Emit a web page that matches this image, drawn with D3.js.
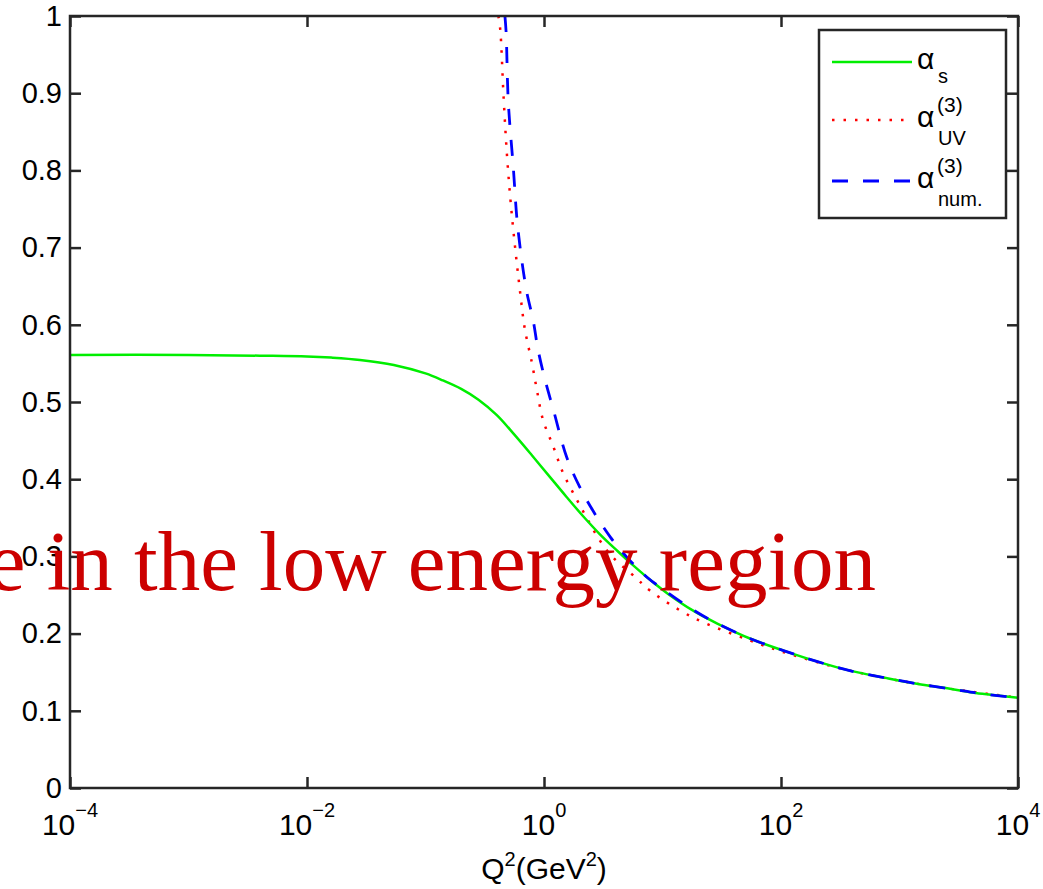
<!DOCTYPE html>
<html>
<head>
<meta charset="utf-8">
<script src="https://cdn.jsdelivr.net/npm/d3@7"></script>
<style>
  html, body { margin: 0; padding: 0; background: #fff; }
  svg { display: block; }
  .tick-label { font-family: "Liberation Sans", Arial, Helvetica, sans-serif; fill: #000; }
</style>
</head>
<body>
<svg id="chart" width="1043" height="889"></svg>
<script>
// Running coupling alpha_s(Q^2) compared with the 3-loop UV expression and the numerical solution

// alpha_s (analytic, freezes in the infrared)
const q2AlphaS = [1e-4, 1e-3, 0.004, 0.01, 0.016, 0.028, 0.054, 0.1, 0.14, 0.2, 0.28, 0.40, 0.56, 0.79,
  1.12, 1.55, 2.14, 2.95, 4.17, 5.6, 7.8, 11, 18, 29, 56, 105, 200, 380, 740, 1400, 2800, 5000, 1e4];
const alphaS = [0.561, 0.561, 0.560, 0.559, 0.5575, 0.5545, 0.548, 0.537, 0.528, 0.517, 0.503, 0.483, 0.458, 0.431,
  0.403, 0.377, 0.352, 0.329, 0.307, 0.289, 0.270, 0.252, 0.230, 0.213, 0.193, 0.178, 0.164, 0.152, 0.143, 0.135, 0.128, 0.122, 0.117];

// alpha_UV^(3)
const q2AlphaUV = [0.412, 0.427, 0.457, 0.49, 0.537, 0.63, 0.69, 0.79, 0.87, 0.98, 1.2, 1.45, 1.9, 2.35, 2.95, 3.8,
  6.0, 7.8, 18, 55, 100, 316, 1000, 3160, 1e4];
const alphaUV = [1.0, 0.983, 0.892, 0.814, 0.740, 0.641, 0.594, 0.551, 0.516, 0.477, 0.442, 0.408, 0.373, 0.347, 0.321, 0.299,
  0.272, 0.256, 0.221, 0.191, 0.177, 0.155, 0.139, 0.127, 0.117];

// alpha_num.^(3)
const q2AlphaNum = [0.468, 0.479, 0.50, 0.55, 0.60, 0.71, 0.81, 0.89, 1.02, 1.2, 1.55, 2.0, 2.57, 3.63, 5.0, 7.4,
  10, 18, 29, 56, 105, 200, 380, 740, 1400, 2800, 5000, 1e4];
const alphaNum = [1.0, 0.979, 0.888, 0.805, 0.727, 0.645, 0.606, 0.568, 0.529, 0.490, 0.429, 0.390, 0.360, 0.325, 0.299, 0.273,
  0.258, 0.231, 0.213, 0.193, 0.178, 0.164, 0.152, 0.143, 0.135, 0.128, 0.122, 0.117];

const xTicks = [1e-4, 1e-2, 1, 1e2, 1e4];
const xTickExponents = ["\u22124", "\u22122", "0", "2", "4"];
const yTicks = [0, 0.1, 0.2, 0.3, 0.4, 0.5, 0.6, 0.7, 0.8, 0.9, 1];
const yTickLabels = ["0", "0.1", "0.2", "0.3", "0.4", "0.5", "0.6", "0.7", "0.8", "0.9", "1"];

const svg = d3.select("#chart");
const plotLeft = 70, plotRight = 1018, plotTop = 16, plotBottom = 788;

const x = d3.scaleLog().domain([1e-4, 1e4]).range([plotLeft, plotRight]);
const y = d3.scaleLinear().domain([0, 1]).range([plotBottom, plotTop]);

svg.append("defs").append("clipPath").attr("id", "plot-clip")
  .append("rect").attr("x", plotLeft).attr("y", plotTop)
  .attr("width", plotRight - plotLeft).attr("height", plotBottom - plotTop);

const frameColor = "#262626";

// axes with inward ticks on all four sides
const gx = svg.append("g").attr("transform", `translate(0,${plotBottom})`)
  .call(d3.axisBottom(x).tickValues(xTicks).tickSize(-11).tickFormat(""));
const gxTop = svg.append("g").attr("transform", `translate(0,${plotTop})`)
  .call(d3.axisTop(x).tickValues(xTicks).tickSize(-11).tickFormat(""));
const gy = svg.append("g").attr("transform", `translate(${plotLeft},0)`)
  .call(d3.axisLeft(y).tickValues(yTicks).tickSize(-11).tickPadding(8).tickFormat((d, i) => yTickLabels[i]));
const gyRight = svg.append("g").attr("transform", `translate(${plotRight},0)`)
  .call(d3.axisRight(y).tickValues(yTicks).tickSize(-11).tickFormat(""));

[gx, gxTop, gy, gyRight].forEach(g => {
  g.select(".domain").remove();
  g.selectAll(".tick line").attr("stroke", frameColor).attr("stroke-width", 2.5);
});
gy.selectAll(".tick text")
  .attr("class", "tick-label")
  .style("font-size", "29px")
  .attr("fill", "#000");

// x tick labels: powers of ten
const xl = svg.append("g").selectAll("text").data(xTicks).join("text")
  .attr("class", "tick-label")
  .attr("x", d => x(d))
  .attr("y", 835)
  .attr("text-anchor", "middle")
  .style("font-size", "30px");
xl.append("tspan").text("10");
xl.append("tspan").attr("dy", -18).style("font-size", "20px").text((d, i) => xTickExponents[i]);

// x axis title
const xt = svg.append("text").attr("class", "tick-label")
  .attr("x", 544).attr("y", 879).attr("text-anchor", "middle").style("font-size", "30px");
xt.append("tspan").text("Q");
xt.append("tspan").attr("dy", -13).style("font-size", "20px").text("2");
xt.append("tspan").attr("dy", 13).text("(GeV");
xt.append("tspan").attr("dy", -13).style("font-size", "20px").text("2");
xt.append("tspan").attr("dy", 13).text(")");

// curves
const series = [
  { q2: q2AlphaUV, a: alphaUV, color: "#ff0000", dash: "2.5,9", width: 2.5 },
  { q2: q2AlphaS, a: alphaS, color: "#00ee00", dash: null, width: 2.5 },
  { q2: q2AlphaNum, a: alphaNum, color: "#0000ff", dash: "16,15", width: 2.8 }
];

const line = d3.line().curve(d3.curveCatmullRom.alpha(0.5));
const plot = svg.append("g").attr("clip-path", "url(#plot-clip)");
series.forEach(s => {
  plot.append("path")
    .attr("d", line(s.q2.map((q, i) => [x(q), y(s.a[i])])))
    .attr("fill", "none")
    .attr("stroke", s.color)
    .attr("stroke-width", s.width)
    .attr("stroke-dasharray", s.dash);
});

// frame
svg.append("rect").attr("x", plotLeft).attr("y", plotTop)
  .attr("width", plotRight - plotLeft).attr("height", plotBottom - plotTop)
  .attr("fill", "none").attr("stroke", frameColor).attr("stroke-width", 2.5);

// legend
const legend = svg.append("g");
legend.append("rect").attr("x", 819).attr("y", 30).attr("width", 187).attr("height", 188)
  .attr("fill", "#fff").attr("stroke", frameColor).attr("stroke-width", 2.5);

const legendRows = [
  { y: 62, color: "#00ee00", dash: null, sup: null, sub: "s", width: 2.5 },
  { y: 120, color: "#ff0000", dash: "2.5,9", sup: "(3)", sub: "UV", width: 2.5 },
  { y: 181, color: "#0000ff", dash: "16,15", sup: "(3)", sub: "num.", width: 2.8 }
];
legendRows.forEach(r => {
  legend.append("line").attr("x1", 832).attr("x2", 912).attr("y1", r.y).attr("y2", r.y)
    .attr("stroke", r.color).attr("stroke-width", r.width).attr("stroke-dasharray", r.dash);
  legend.append("text").attr("class", "tick-label").attr("x", 917).attr("y", r.y + 7)
    .style("font-size", "30px").text("\u03b1");
  if (r.sup) {
    legend.append("text").attr("class", "tick-label").attr("x", 937).attr("y", r.y - 8)
      .style("font-size", "21px").text(r.sup);
  }
  legend.append("text").attr("class", "tick-label").attr("x", 938).attr("y", r.sup ? r.y + 25 : r.y + 21)
    .style("font-size", "20px").text(r.sub);
});

// overlaid caption
svg.append("text")
  .attr("x", 876).attr("y", 590)
  .attr("text-anchor", "end")
  .style("font-family", "'Liberation Serif', 'Times New Roman', serif")
  .style("font-size", "85px")
  .attr("fill", "#cc0000")
  .text("e in the low energy region");
</script>
</body>
</html>
